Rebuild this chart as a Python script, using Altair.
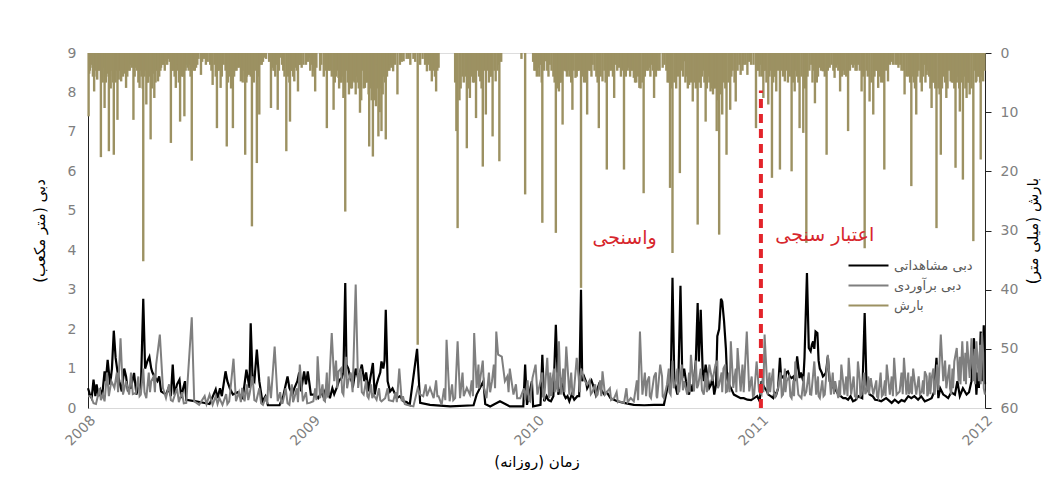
import altair as alt
import pandas as pd

START = pd.Timestamp("2008-01-01")
SPLIT_DAY = 1096          # 2011-01-01, start of validation period

# ---------------- precipitation (day offset from 2008-01-01, mm) ----------------
rain_2008 = [(1,10.7),(3,3),(6,2),(10,6.5),(14,4),(17,3),(21,17.6),(24,5),(27,9.3),(30,4),
             (34,16.6),(37,6),(42,17.2),(45,5),(48,11.3),(51,3),(54,4.8),(57,4),(62,5.9),(66,3),
             (70,2),(74,11.3),(78,2.5),(84,5.9),(87,4),(90,35.2),(95,8.7),(98,5),(102,14.6),(105,3),
             (108,7.6),(111,3),(114,4.8),(119,2.5),(123,2),(127,1.4),(131,1),(135,15.2),(139,3),(143,5.9),
             (146,2),(150,11.6),(153,4),(157,10.7),(162,2.5),(165,2),(169,18.2),(172,3),(176,2.5),(180,1),
             (184,3.7),(192,2.0),(203,5.4),(206,2),(210,12.7),(213,3),(216,5.9),(221,2.0),(226,15.8),(230,4),
             (233,6),(236,12.7),(240,3),(244,2.5),(249,4.8),(252,5),(256,17.2),(259,4),(262,3.7),(267,29.3),
             (270,5),(275,18.6),(279,10.4),(283,2),(287,0.8),(298,9.3),(302,3),(305,4),(309,9.6),(314,0.8),
             (318,3),(323,16.6),(326,4),(329,11.6),(332,3),(336,4.8),(342,6.5),(345,2),(355,2.0),(361,0.8),
             (365,1)]
rain_2009 = [(370,6.5),(378,3),(384,4),(389,12.7),(392,3),(400,9.6),(404,4),(408,4.2),(411,5),(416,7.6),
             (419,26.8),(421,3),(426,5.9),(428,6),(432,4.8),(437,4),(443,10.1),(447,3),(451,5.9),(455,5),
             (458,15.8),(464,17.5),(467,8),(470,2.0),(473,14.1),(476,6),(478,13.2),(482,4),(485,14.6),(489,3),
             (492,2.0),(497,3.1),(504,7.0),(508,2),(514,1.4),(519,1),(525,2.0),(530,1),(537,49.3),(541,2.0),
             (545,1),(552,3.1),(555,2),(560,4.8),(563,3),(567,6.5),(571,2.5),(600,13.2),(602,29.6),(605,8),
             (610,4),(617,16.1),(620,3),(622,7.6),(627,5),(632,11.0),(639,4.8),(643,19.2),(645,3),(648,10.4),
             (655,4),(659,14.1),(664,4.8),(667,3),(670,18.3),(712,23.9),(735,2.0)]
rain_2010 = [(729,3),(737,2.0),(740,28.7),(746,1.4),(750,4),(755,3),(762,30.4),(767,6.5),(770,5),(773,12.1),
             (778,3.1),(784,4),(789,9.6),(794,4.2),(800,3),(803,39.7),(808,5),(813,10.4),(818,3),(822,2.0),
             (828,4),(832,12.7),(838,4.8),(845,19.7),(850,3),(857,7.6),(860,2),(865,2.5),(868,4),(873,19.7),
             (881,2.5),(885,3),(889,4.2),(893,5),(898,5.9),(900,6),(905,23.7),(910,3),(914,2.5),(918,2),
             (922,7.6),(928,3),(936,2.5),(944,5),(948,22.8),(952,33.8),(958,6),(964,20.3),(971,1.4),(975,4),
             (979,5.4),(985,8.2),(988,5),(993,29.0),(998,5.9),(1002,3),(1006,11.6),(1010,4),(1014,6.5),(1020,6),
             (1024,13.2),(1028,30.7),(1033,10.4),(1036,5),(1040,17.2),(1046,9.6),(1050,3),(1055,8.2),(1063,3.7),
             (1068,2),(1074,3.7),(1080,2),(1088,12.7),(1092,3),(1096,2.0)]
rain_2011 = [(1100,7.6),(1103,3),(1108,8.7),(1114,21.1),(1118,4),(1121,6.5),(1127,19.7),(1130,3),(1135,4.8),
             (1140,5),(1146,20.0),(1151,6.5),(1155,4),(1159,12.7),(1165,13.5),(1170,32.1),(1175,3),(1178,2.0),
             (1184,8.5),(1187,5),(1192,2.5),(1197,3.1),(1203,17.2),(1205,3),(1208,2.5),(1216,4.2),(1220,2),
             (1225,6.5),(1232,3.7),(1235,4),(1238,13.2),(1246,2.5),(1250,3),(1254,2.0),(1260,6.5),(1265,33.0),
             (1270,4),(1273,8.2),(1279,10.4),(1283,3),(1287,5.9),(1292,5),(1297,19.7),(1300,3),(1303,4.8),
             (1311,2.0),(1315,2),(1320,2.5),(1325,3),(1330,7.0),(1336,4),(1341,22.5),(1345,5),(1349,10.4),
             (1353,3),(1358,6.5),(1362,2),(1366,3.7),(1370,4),(1374,9.3),(1378,5),(1382,29.6),(1385,6),
             (1389,17.2),(1394,4),(1398,7.6),(1402,3),(1405,4.8),(1409,5),(1413,19.4),(1417,4),(1420,9.9),
             (1425,21.4),(1428,3),(1431,7.6),(1433,5),(1436,7.0),(1442,31.8),(1444,3),(1447,4.8),(1451,4),
             (1454,18.0),(1458,4.8)]

# light-rain days forming the dense band at the top
light_2008 = [(2,3.5),(4,2.5),(8,4),(12,3),(15,4.5),(19,3),(23,4),(26,2.5),(29,5),(32,3.5),(36,4),(39,3),
              (41,5),(44,4),(47,3),(50,4.5),(53,3),(56,2.5),(59,3.5),(61,2),(64,4),(68,3),(72,2.5),(76,4),
              (80,3),(82,5),(86,3),(89,6),(92,4),(94,3),(97,5),(100,4),(104,6),(107,3.5),(110,5),(113,3),
              (116,4),(118,3),(121,2),(125,3),(129,2),(133,1.5),(137,3),(141,4),(145,3),(148,5),(152,3),
              (155,4),(159,3),(161,2),(164,3),(167,4),(171,2.5),(174,3),(178,2),(186,1.5),(189,1),(195,1.5),
              (199,2),(201,3),(208,4),(212,3),(218,4),(224,3),(228,5),(232,3),(238,4),(242,3),(247,2.5),
              (251,4),(254,3),(258,5),(261,3),(265,4),(272,3),(277,4),(281,2),(285,1.5),(290,1),(295,1.5),
              (300,2.5),(304,3),(307,2),(311,3),(316,2),(320,4),(325,3),(328,5),(331,3),(334,4),(338,2.5),
              (340,3),(344,2),(348,2.5),(351,2),(358,1.5),(363,2)]
light_2009 = [(362,3),(366,4),(368,3),(372,2.5),(380,2),(387,3),(394,3),(397,4),(402,5),(406,3),(409,6),
              (413,5),(415,4),(418,6),(423,5),(425,7),(430,6),(434,5),(436,7),(439,5),(441,6),(445,8),(449,6),
              (453,5),(457,7),(460,6),(462,8),(466,7),(469,9),(472,6),(475,10),(480,7),(484,5),(487,4),(491,3),
              (494,2.5),(500,2),(511,1.5),(522,1),(533,1.5),(549,2),(557,3),(565,4),(569,3),(598,5),(607,6),
              (612,5),(615,4),(619,6),(625,4),(629,5),(635,3),(637,4),(641,6),(650,3),(653,5),(657,4),(662,3),
              (669,2),(673,1.5),(706,1),(725,1.5),(732,2)]
light_2010 = [(727,3),(731,4),(733,2.5),(735,4),(739,5),(743,3),(748,3),(752,2),(758,4),(760,5),(764,6),
              (766,4),(769,5),(772,4),(775,3),(780,4),(782,3),(787,5),(791,3),(796,4),(798,3),(805,4),(811,5),
              (816,3),(820,4),(825,3),(830,5),(835,4),(841,3),(843,5),(848,4),(853,3),(855,4),(862,3),(871,3),
              (876,4),(879,3),(883,4),(887,3),(891,5),(896,4),(903,5),(907,4),(912,3),(916,4),(920,3),(925,4),
              (931,3),(939,2),(942,3),(946,5),(950,6),(955,5),(961,4),(967,3),(969,4),(973,5),(977,6),(982,5),
              (990,6),(995,5),(1000,4),(1004,5),(1008,6),(1012,5),(1016,6),(1018,7),(1022,6),(1026,8),(1030,7),
              (1038,6),(1043,5),(1048,4),(1053,5),(1058,3),(1061,2),(1066,3),(1071,2),(1077,1.5),(1084,2),
              (1090,3),(1094,4)]
light_2011 = [(1098,4),(1101,3),(1105,5),(1110,4),(1112,3),(1116,5),(1120,4),(1124,3),(1132,4),(1137,3),
              (1143,4),(1148,5),(1153,3),(1157,5),(1162,4),(1168,6),(1172,4),(1180,5),(1182,3),(1189,4),
              (1194,3),(1200,4),(1211,2),(1214,3),(1218,2.5),(1222,3),(1228,4),(1230,3),(1241,3),(1244,2),
              (1248,2),(1252,3),(1257,3),(1262,4),(1268,3),(1276,5),(1281,4),(1285,3),(1290,4),(1295,5),
              (1306,2),(1309,1.5),(1318,2),(1323,2),(1328,3),(1333,4),(1339,5),(1343,4),(1347,6),(1351,4),
              (1356,5),(1360,4),(1364,5),(1368,3),(1372,6),(1376,5),(1380,6),(1387,7),(1391,6),(1396,5),
              (1400,6),(1407,5),(1411,6),(1415,5),(1419,6),(1423,5),(1427,4),(1429,6),(1435,5),(1439,6),
              (1446,5),(1449,4),(1453,5),(1456,4),(1460,3)]

# ---------------- observed discharge (day offset, m3/s) ----------------
obs_2008 = [(0,0.5),(3,0.35),(6,0.25),(9,0.72),(12,0.3),(14,0.6),(17,0.3),(20,0.45),(23,0.3),(27,0.93),
            (29,0.68),(32,1.22),(36,0.59),(39,1.0),(42,1.96),(45,1.27),(48,0.93),(51,0.68),(55,0.42),(59,1.0),
            (62,0.8),(65,0.42),(67,0.5),(70,0.51),(75,0.89),(79,0.34),(82,0.6),(86,0.42),(90,2.77),(93,1.0),
            (97,1.2),(100,1.3),(103,1.0),(105,0.9),(108,0.8),(113,0.68),(116,0.8),(119,0.42),(127,0.34),
            (131,0.5),(135,0.3),(138,1.1),(141,0.34),(145,0.6),(149,0.72),(152,0.25),(155,0.5),(158,0.68),
            (160,0.21),(176,0.17),(198,0.1),(208,0.47),(211,0.25),(215,0.5),(218,0.3),(224,0.93),(227,0.68),
            (231,0.5),(236,0.34),(244,0.4),(248,0.3),(252,0.25),(258,0.97),(263,0.51),(265,2.15),(268,0.76),
            (271,0.68),(275,1.48),(279,0.68),(284,0.17),(289,0.3),(293,0.07),(312,0.07),(318,0.3),(322,0.59),
            (325,0.8),(328,0.51),(333,0.34),(336,0.5),(341,0.68),(344,0.9),(347,0.42),(352,0.93),(355,0.6),
            (358,0.93),(360,0.7),(363,0.34)]
obs_2009 = [(369,0.34),(375,0.25),(380,0.4),(383,0.3),(389,0.55),(394,0.25),(398,0.5),(401,0.35),(405,0.51),
            (409,0.7),(413,0.76),(416,0.9),(419,3.17),(421,1.1),(424,1.0),(427,0.76),(432,0.59),(436,1.0),
            (440,0.76),(443,0.9),(446,1.1),(450,0.68),(453,0.9),(457,0.42),(459,0.68),(464,1.14),(467,0.34),
            (470,0.6),(473,0.76),(476,0.9),(478,1.18),(481,1.0),(483,1.2),(485,2.49),(488,0.68),(492,0.42),
            (496,0.5),(503,0.25),(508,0.3),(514,0.17),(519,0.15),(524,0.08),(536,1.5),(541,0.13),(557,0.08),
            (590,0.04),(628,0.07),(633,0.34),(644,0.68),(647,0.1),(655,0.04),(671,0.17),(687,0.04),(709,0.04),
            (712,1.1),(715,0.08),(723,0.68),(725,0.04)]
obs_2010 = [(737,0.08),(740,1.35),(743,0.17),(747,0.3),(750,0.2),(754,0.17),(758,0.3),(762,2.11),(766,0.34),
            (770,0.5),(773,0.76),(775,0.35),(778,0.25),(781,0.3),(784,0.17),(788,0.35),(792,0.21),(797,0.3),
            (800,0.3),(803,3.0),(805,0.68),(808,0.8),(811,0.68),(813,0.5),(816,0.59),(820,0.7),(824,0.51),
            (827,0.34),(830,0.5),(832,0.59),(836,0.45),(841,0.34),(845,0.4),(851,0.25),(862,0.17),(873,0.13),
            (889,0.08),(906,0.07),(922,0.08),(938,0.08),(946,0.68),(949,0.5),(952,3.3),(955,0.68),(960,0.34),
            (962,1.0),(965,3.1),(968,0.76),(971,1.0),(974,0.68),(976,0.5),(979,0.34),(981,0.6),(984,0.42),
            (987,0.7),(990,1.2),(993,2.66),(995,1.18),(998,2.49),(1001,1.0),(1003,0.68),(1006,1.1),(1009,0.8),
            (1012,0.51),(1015,0.6),(1017,0.8),(1020,0.34),(1023,0.6),(1025,1.82),(1028,2.0),(1031,2.77),
            (1033,2.7),(1036,2.2),(1039,1.5),(1041,0.76),(1044,0.6),(1047,0.51),(1052,0.34),(1057,0.3),
            (1063,0.25),(1068,0.25),(1074,0.21),(1080,0.2),(1085,0.25),(1090,0.3),(1094,0.17)]
obs_2011 = [(1097,0.68),(1099,0.6),(1102,0.51),(1105,0.45),(1108,0.34),(1112,0.3),(1116,0.25),(1118,0.4),
            (1121,0.34),(1124,0.5),(1127,1.27),(1129,0.76),(1132,0.8),(1135,0.68),(1137,0.9),(1140,0.93),
            (1143,0.8),(1146,0.76),(1149,0.8),(1151,0.68),(1153,0.9),(1155,1.31),(1159,0.76),(1161,0.9),
            (1165,0.68),(1167,1.27),(1171,3.42),(1174,1.52),(1177,1.44),(1179,1.6),(1181,1.69),(1183,1.5),
            (1185,1.94),(1188,1.9),(1190,1.2),(1192,1.0),(1195,0.9),(1197,0.8),(1200,0.85),(1202,0.9),
            (1205,1.31),(1208,0.68),(1211,0.6),(1214,0.51),(1218,0.45),(1222,0.34),(1226,0.3),(1230,0.25),
            (1234,0.25),(1238,0.21),(1242,0.3),(1246,0.17),(1250,0.2),(1255,0.3),(1261,0.25),(1265,2.41),
            (1268,0.59),(1273,0.34),(1278,0.3),(1282,0.21),(1287,0.2),(1292,0.17),(1300,0.25),(1309,0.13),
            (1314,0.21),(1320,0.13),(1325,0.2),(1330,0.17),(1336,0.3),(1341,0.25),(1346,0.3),(1352,0.21),
            (1357,0.3),(1363,0.17),(1368,0.2),(1374,0.25),(1378,0.4),(1382,1.27),(1385,0.25),(1388,0.5),
            (1393,0.34),(1397,0.3),(1401,0.25),(1406,0.4),(1412,0.34),(1416,0.68),(1420,0.3),(1425,0.5),
            (1431,0.34),(1435,0.4),(1439,0.68),(1443,1.77),(1447,0.34),(1449,0.9),(1451,0.51),(1454,1.94),
            (1456,0.68),(1459,2.1),(1461,0.6)]

# ---------------- simulated discharge (day offset, m3/s) ----------------
sim_2008 = [(0,0.3),(5,0.3),(9,0.12),(13,0.1),(19,0.5),(21,0.2),(24,0.34),(27,0.17),(31,0.9),(34,0.3),
            (38,0.68),(43,0.51),(47,0.9),(49,0.4),(53,1.77),(57,0.34),(62,0.68),(67,0.34),(70,0.9),(73,0.35),
            (78,0.38),(82,0.8),(84,0.3),(86,0.34),(90,1.0),(92,0.4),(95,0.25),(99,0.9),(101,0.4),(103,0.68),
            (107,0.8),(109,0.4),(111,1.1),(117,1.86),(122,0.51),(127,0.25),(132,0.6),(135,0.2),(138,0.17),
            (145,0.5),(148,0.15),(153,0.4),(156,0.12),(160,0.13),(169,2.3),(173,0.17),(181,0.08),(190,0.3),
            (193,0.1),(198,0.34),(203,0.08),(208,0.3),(211,0.1),(214,0.25),(219,0.08),(225,0.35),(227,0.1),
            (230,0.17),(237,1.25),(241,0.17),(246,0.4),(249,0.15),(251,0.51),(255,0.17),(259,0.6),(261,0.2),
            (263,0.34),(268,0.8),(271,0.2),(274,0.17),(279,0.5),(282,0.12),(285,0.08),(290,0.3),(292,0.1),
            (294,0.8),(298,0.25),(304,1.56),(309,0.17),(313,0.4),(315,0.12),(317,0.13),(322,0.5),(325,0.12),
            (328,0.08),(332,0.6),(334,0.15),(336,0.25),(340,0.5),(342,0.15),(345,1.1),(350,0.17),(355,0.4),
            (357,0.12),(361,0.13)]
sim_2009 = [(367,0.17),(370,0.5),(372,0.2),(374,1.31),(378,0.25),(382,0.6),(384,0.2),(386,0.17),(389,0.9),
            (390,0.3),(392,0.34),(397,1.9),(401,0.68),(404,1.2),(406,0.5),(408,0.93),(412,1.0),(414,0.4),
            (416,0.34),(420,1.3),(422,0.5),(424,0.68),(428,0.9),(431,0.4),(436,3.13),(440,0.51),(444,1.0),
            (446,0.4),(449,0.34),(453,0.7),(455,0.3),(457,0.25),(461,0.6),(463,0.25),(465,0.34),(470,0.21),
            (474,0.5),(476,0.2),(478,0.17),(484,0.25),(488,0.5),(490,0.2),(497,0.17),(501,0.4),(503,0.15),
            (507,1.0),(511,0.17),(513,0.3),(516,0.1),(519,0.08),(530,0.04),(537,0.5),(541,0.34),(546,0.3),
            (550,0.6),(552,0.3),(557,0.51),(563,0.25),(567,0.7),(569,0.3),(571,0.3),(576,0.08),(580,0.5),
            (582,0.2),(584,1.73),(589,0.17),(593,0.6),(595,0.2),(598,0.25),(602,1.69),(606,0.25),(610,0.9),
            (612,0.3),(617,0.51),(622,0.34),(625,0.7),(627,0.3),(629,1.9),(633,0.51),(636,1.1),(637,0.5),
            (639,0.76),(643,1.2),(645,0.5),(649,0.25),(653,0.9),(655,0.4),(658,0.68),(661,1.1),(663,0.5),
            (665,1.94),(668,1.35),(674,1.3),(679,0.68),(683,0.8),(685,0.4),(687,1.0),(693,0.34),(697,0.6),
            (699,0.25),(704,0.25),(710,0.5),(712,0.2),(716,0.7),(718,0.2),(720,0.17),(724,0.76),(729,1.1)]
sim_2010 = [(732,0.34),(737,0.68),(740,0.9),(741,0.3),(743,0.25),(748,1.27),(751,0.25),(753,0.9),(754,0.3),
            (756,0.68),(759,1.0),(760,0.4),(762,0.51),(764,0.9),(765,0.4),(767,1.69),(770,0.34),(774,1.0),
            (776,0.4),(779,1.56),(784,0.34),(787,0.9),(789,0.35),(791,0.34),(796,1.27),(799,0.8),(801,0.4),
            (803,1.0),(808,0.72),(813,0.59),(817,0.7),(819,0.35),(822,0.42),(826,0.6),(828,0.3),(830,0.34),
            (834,0.7),(836,0.3),(838,0.93),(842,0.34),(846,0.42),(850,0.5),(852,0.2),(857,0.25),(861,0.4),
            (863,0.15),(865,0.17),(873,0.13),(877,0.5),(879,0.15),(884,0.25),(889,0.17),(894,0.7),(896,0.2),
            (899,1.94),(903,0.34),(907,0.9),(909,0.3),(911,0.68),(914,0.8),(915,0.3),(917,0.25),(922,0.8),
            (925,0.9),(926,0.3),(927,0.25),(932,1.1),(935,0.8),(936,0.3),(938,0.25),(943,0.59),(946,1.0),
            (947,0.4),(949,0.34),(952,1.2),(954,0.5),(957,0.68),(960,1.0),(961,0.4),(963,0.42),(967,1.1),
            (969,0.45),(971,0.68),(976,0.34),(979,0.9),(980,0.4),(982,1.35),(987,0.42),(990,1.2),(992,0.5),
            (994,0.59),(998,1.0),(1000,0.45),(1003,0.34),(1006,0.9),(1008,0.4),(1012,1.1),(1017,0.68),
            (1022,1.1),(1025,1.2),(1026,0.5),(1028,0.59),(1032,0.9),(1033,0.4),(1035,1.0),(1038,1.1),
            (1039,0.4),(1041,0.42),(1044,0.9),(1045,0.4),(1047,1.69),(1051,0.51),(1055,1.0),(1056,0.4),
            (1058,1.52),(1063,0.42),(1066,1.1),(1068,0.4),(1073,1.94),(1077,0.42),(1081,0.8),(1083,0.3),
            (1085,0.34),(1089,1.18),(1093,0.42)]
sim_2011 = [(1097,0.34),(1099,0.8),(1100,0.4),(1102,1.86),(1107,0.34),(1110,0.9),(1111,0.4),(1113,0.68),
            (1116,1.0),(1117,0.4),(1119,0.25),(1124,0.51),(1128,0.9),(1130,0.3),(1132,0.34),(1135,1.0),
            (1136,0.4),(1138,0.68),(1142,0.8),(1144,0.3),(1146,0.25),(1149,0.7),(1150,0.3),(1152,1.18),
            (1157,0.34),(1162,0.25),(1166,0.8),(1167,0.3),(1170,0.42),(1174,0.9),(1176,0.35),(1178,0.34),
            (1183,1.18),(1186,0.34),(1189,0.8),(1190,0.3),(1192,0.25),(1196,0.7),(1198,0.3),(1200,0.34),
            (1205,1.35),(1210,0.34),(1213,0.9),(1215,0.35),(1217,0.68),(1222,0.25),(1224,0.7),(1225,0.3),
            (1227,1.1),(1232,0.34),(1235,0.8),(1237,0.3),(1239,1.27),(1243,0.34),(1247,0.8),(1249,0.3),
            (1252,0.25),(1254,1.18),(1257,0.7),(1258,0.3),(1260,0.34),(1264,0.9),(1266,0.35),(1268,0.42),
            (1271,0.8),(1272,0.35),(1275,0.76),(1279,0.34),(1284,0.7),(1285,0.3),(1287,0.25),(1291,0.9),
            (1293,0.3),(1295,0.34),(1298,0.7),(1299,0.3),(1301,1.1),(1306,0.34),(1309,0.8),(1311,0.3),
            (1313,1.27),(1317,0.34),(1322,0.42),(1325,0.9),(1327,0.35),(1329,1.27),(1333,0.34),(1336,0.9),
            (1337,0.35),(1339,0.42),(1341,0.8),(1342,0.35),(1344,1.0),(1349,0.34),(1353,0.8),(1355,0.35),
            (1358,0.42),(1360,0.7),(1361,0.35),(1363,0.93),(1366,0.8),(1367,0.3),(1368,0.34),(1371,0.9),
            (1372,0.35),(1374,0.76),(1377,1.0),(1378,0.4),(1379,0.34),(1383,1.1),(1385,0.45),(1389,1.86),
            (1393,0.68),(1396,1.2),(1398,0.5),(1401,0.85),(1403,1.1),(1404,0.5),(1406,0.34),(1408,1.0),
            (1409,0.5),(1411,1.18),(1415,1.52),(1418,0.68),(1420,1.3),(1421,0.6),(1424,1.69),(1427,0.68),
            (1429,1.4),(1430,0.6),(1432,1.69),(1436,0.76),(1439,1.77),(1442,0.68),(1444,1.5),(1445,0.6),
            (1447,1.69),(1451,0.68),(1453,1.6),(1454,0.6),(1456,1.9),(1458,1.4),(1459,0.5),(1461,0.34)]

# ---------------- labels ----------------
LBL_OBS = "دبی مشاهداتی"
LBL_SIM = "دبی برآوردی"
LBL_RAIN = "بارش"
RLM = "\u200f"
TITLE_X = RLM + "زمان (روزانه)" + RLM
TITLE_Q = RLM + "دبی (متر مکعب)" + RLM
TITLE_P = RLM + "بارش (میلی متر)" + RLM
period_labels = ["واسنجی", "اعتبار سنجی"]
period_label_day = [874, 1200]
period_label_q = [4.31, 4.39]
split_top_q = 8.05
years = [2008, 2009, 2010, 2011, 2012]

FONT = "DejaVu Sans"
C_OBS, C_SIM, C_RAIN, C_RED = "#000000", "#7f7f7f", "#9c9162", "#e3242b"


def to_date(d):
    return (START + pd.Timedelta(days=int(d))).strftime("%Y-%m-%dT00:00:00")


def frame(pairs_list, vname, series):
    rows = sorted((p for pairs in pairs_list for p in pairs), key=lambda p: p[0])
    return pd.DataFrame({"date": [to_date(d) for d, _ in rows],
                         vname: [v for _, v in rows],
                         "series": series})


rain_df = frame([rain_2008, rain_2009, rain_2010, rain_2011,
                 light_2008, light_2009, light_2010, light_2011], "rain", LBL_RAIN)
obs_df = frame([obs_2008, obs_2009, obs_2010, obs_2011], "q", LBL_OBS)
sim_df = frame([sim_2008, sim_2009, sim_2010, sim_2011], "q", LBL_SIM)
split_df = pd.DataFrame({"date": [to_date(SPLIT_DAY)], "q": [0.0], "q2": [split_top_q]})
text_df = pd.DataFrame({"date": [to_date(d) for d in period_label_day],
                        "q": period_label_q, "label": period_labels})

x_enc = alt.X(
    "date:T",
    title=TITLE_X,
    scale=alt.Scale(domain=[alt.DateTime(year=2008, month=1, date=1),
                            alt.DateTime(year=2012, month=1, date=1)]),
    axis=alt.Axis(values=[alt.DateTime(year=y, month=1, date=1) for y in years],
                  format="%Y", labelAngle=-45, labelAlign="right", labelBaseline="top",
                  labelPadding=5, ticks=False, domainColor="#d9d9d9", grid=False,
                  labelColor="#7f7f7f", labelFontSize=14, labelFont=FONT,
                  titleFont=FONT, titleFontSize=15, titleFontWeight="normal",
                  titleColor="#000000", titlePadding=6),
)

q_scale = alt.Scale(domain=[0, 9], nice=False)
q_axis = alt.Axis(orient="left", values=list(range(10)), ticks=False, grid=False,
                  domainColor="#222222", labelPadding=12, labelColor="#7f7f7f",
                  labelFontSize=14, labelFont=FONT, titleFont=FONT, titleFontSize=15,
                  titleFontWeight="normal", titleColor="#000000", titlePadding=20)

color_scale = alt.Scale(domain=[LBL_OBS, LBL_SIM, LBL_RAIN], range=[C_OBS, C_SIM, C_RAIN])
legend = alt.Legend(title=None, orient="none", legendX=779, legendY=201,
                    symbolType="M-3,0H1", symbolSize=400, symbolStrokeWidth=2.2,
                    labelFont=FONT, labelFontSize=13, labelColor="#595959",
                    labelOffset=4, rowPadding=1, padding=0)
color_enc = alt.Color("series:N", scale=color_scale, legend=legend)

rain = alt.Chart(rain_df).mark_rule(strokeWidth=2.4).encode(
    x=x_enc,
    y=alt.Y("rain:Q", title=TITLE_P,
            scale=alt.Scale(domain=[0, 60], reverse=True, nice=False),
            axis=alt.Axis(orient="right", values=list(range(0, 61, 10)), tickSize=6,
                          tickColor="#222222", domainColor="#222222", grid=False,
                          labelPadding=9, labelColor="#7f7f7f", labelFontSize=14,
                          labelFont=FONT, titleFont=FONT, titleFontSize=15,
                          titleFontWeight="normal", titleColor="#000000",
                          titleAngle=270, titleBaseline="top", titlePadding=8)),
    y2=alt.datum(0),
    color=color_enc,
)

obs = alt.Chart(obs_df).mark_line(strokeWidth=2.2).encode(
    x=x_enc, y=alt.Y("q:Q", title=TITLE_Q, scale=q_scale, axis=q_axis), color=color_enc)
sim = alt.Chart(sim_df).mark_line(strokeWidth=2).encode(
    x=x_enc, y=alt.Y("q:Q", title=TITLE_Q, scale=q_scale, axis=q_axis), color=color_enc)
split = alt.Chart(split_df).mark_rule(color=C_RED, strokeWidth=4, strokeDash=[9, 6]).encode(
    x=x_enc, y=alt.Y("q:Q", title=TITLE_Q, scale=q_scale, axis=q_axis), y2="q2:Q")
texts = alt.Chart(text_df).mark_text(color="#d7262c", fontSize=19, font=FONT,
                                     align="center", baseline="middle").encode(
    x=x_enc, y=alt.Y("q:Q", title=TITLE_Q, scale=q_scale, axis=q_axis), text="label:N")

left = alt.layer(obs, sim, split, texts)

chart = alt.layer(rain, left).resolve_scale(y="independent").properties(
    width=897, height=355,
    padding={"left": 80, "top": 45, "right": 70, "bottom": 62},
    autosize=alt.AutoSizeParams(type="none"),
).configure_view(stroke=None).configure(font=FONT)

chart.save("out.html", embed_options={"renderer": "svg", "actions": False})
